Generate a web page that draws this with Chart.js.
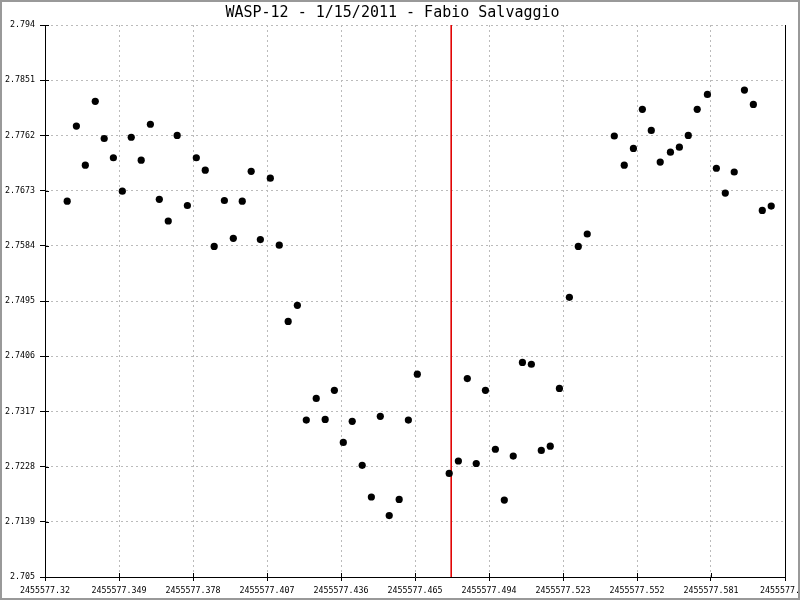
<!DOCTYPE html>
<html><head><meta charset="utf-8">
<script src="https://cdn.jsdelivr.net/npm/chart.js@4/dist/chart.umd.min.js"></script>
<style>html,body{margin:0;padding:0;background:#fff;}canvas{display:block;}</style>
</head><body>
<canvas id="c" width="800" height="600"></canvas>
<script>
const chartTitle = 'WASP-12 - 1/15/2011 - Fabio Salvaggio';

const julianDates = [
  2455577.3287, 2455577.3323, 2455577.3358, 2455577.3397, 2455577.3432, 2455577.3468,
  2455577.3503, 2455577.3538, 2455577.3577, 2455577.3613, 2455577.3648, 2455577.3683,
  2455577.3718, 2455577.3758, 2455577.3793, 2455577.3828, 2455577.3863, 2455577.3903,
  2455577.3938, 2455577.3973, 2455577.4008, 2455577.4044, 2455577.4083, 2455577.4118,
  2455577.4153, 2455577.4189, 2455577.4224, 2455577.4263, 2455577.4298, 2455577.4334,
  2455577.4369, 2455577.4404, 2455577.4443, 2455577.4479, 2455577.4514, 2455577.4549,
  2455577.4588, 2455577.4624, 2455577.4659, 2455577.4784, 2455577.4820, 2455577.4855,
  2455577.4890, 2455577.4926, 2455577.4965, 2455577.5000, 2455577.5035, 2455577.5071,
  2455577.5106, 2455577.5145, 2455577.5180, 2455577.5216, 2455577.5255, 2455577.5290,
  2455577.5325, 2455577.5431, 2455577.5470, 2455577.5506, 2455577.5541, 2455577.5576,
  2455577.5611, 2455577.5651, 2455577.5686, 2455577.5721, 2455577.5756, 2455577.5796,
  2455577.5831, 2455577.5866, 2455577.5901, 2455577.5941, 2455577.5976, 2455577.6011,
  2455577.6046
];
const magnitudes = [
  2.7656, 2.7777, 2.7714, 2.7817, 2.7757, 2.7726,
  2.7672, 2.7759, 2.7722, 2.7780, 2.7659, 2.7624,
  2.7762, 2.7649, 2.7726, 2.7706, 2.7583, 2.7657,
  2.7596, 2.7656, 2.7704, 2.7594, 2.7693, 2.7585,
  2.7462, 2.7488, 2.7303, 2.7338, 2.7304, 2.7351,
  2.7267, 2.7301, 2.7230, 2.7179, 2.7309, 2.7149,
  2.7175, 2.7303, 2.7377, 2.7217, 2.7237, 2.7370,
  2.7233, 2.7351, 2.7256, 2.7174, 2.7245, 2.7396,
  2.7393, 2.7254, 2.7261, 2.7354, 2.7501, 2.7583,
  2.7603, 2.7761, 2.7714, 2.7741, 2.7804, 2.7770,
  2.7719, 2.7735, 2.7743, 2.7762, 2.7804, 2.7828,
  2.7709, 2.7669, 2.7703, 2.7835, 2.7812, 2.7641,
  2.7648
];
const transitMid = 2455577.4792;

const xTickLabels = ['2455577.32','2455577.349','2455577.378','2455577.407','2455577.436',
  '2455577.465','2455577.494','2455577.523','2455577.552','2455577.581','2455577.61'];
const yTickLabels = ['2.705','2.7139','2.7228','2.7317','2.7406','2.7495',
  '2.7584','2.7673','2.7762','2.7851','2.794'];

const xTickValues = xTickLabels.map(Number);
const yTickValues = yTickLabels.map(Number);
const xMin = xTickValues[0], xMax = xTickValues[xTickValues.length - 1];
const yMin = yTickValues[0], yMax = yTickValues[yTickValues.length - 1];

const points = julianDates.map((x, i) => ({ x: x, y: magnitudes[i] }));
const transitLine = [{ x: transitMid, y: yMax }, { x: transitMid, y: yMin }];

const tickFont = { family: '"DejaVu Sans Mono", monospace', size: 8.3 };

const frame = {
  id: 'frame',
  afterDraw(chart) {
    const { ctx, chartArea: a, scales: { x, y } } = chart;
    ctx.save();
    ctx.strokeStyle = '#000';
    ctx.lineWidth = 1;
    ctx.beginPath();
    x.ticks.forEach((t, i) => {
      const px = Math.round(x.getPixelForTick(i)) + 0.5;
      ctx.moveTo(px, a.bottom); ctx.lineTo(px, a.bottom - 4);
    });
    y.ticks.forEach((t, i) => {
      const py = Math.round(y.getPixelForTick(i)) + 0.5;
      ctx.moveTo(a.left, py); ctx.lineTo(a.left + 4, py);
    });
    ctx.stroke();
    ctx.strokeStyle = '#999';
    ctx.lineWidth = 2;
    ctx.strokeRect(1, 1, chart.width - 2, chart.height - 2);
    ctx.restore();
  }
};

new Chart(document.getElementById('c'), {
  type: 'scatter',
  data: {
    datasets: [
      {
        data: points,
        backgroundColor: '#000',
        borderColor: '#000',
        borderWidth: 0,
        pointRadius: 3.6,
        pointHoverRadius: 3.6
      },
      {
        type: 'line',
        data: transitLine,
        borderColor: '#e00000',
        borderWidth: 1,
        pointRadius: 0,
        fill: false
      }
    ]
  },
  options: {
    responsive: false,
    animation: false,
    events: [],
    layout: { padding: { left: 0, right: 15, top: 0, bottom: 0 } },
    plugins: {
      legend: { display: false },
      tooltip: { enabled: false },
      title: {
        display: true,
        text: chartTitle,
        color: '#000',
        font: { family: '"DejaVu Sans Mono", monospace', size: 15, weight: 'normal', lineHeight: 1.2 },
        padding: { top: 4, bottom: 3 }
      }
    },
    scales: {
      x: {
        type: 'linear',
        min: xMin,
        max: xMax,
        afterBuildTicks(scale) { scale.ticks = xTickValues.map(v => ({ value: v })); },
        afterFit(scale) { scale.paddingLeft = 0; scale.paddingRight = 0; scale.height = 23; },
        ticks: {
          autoSkip: false,
          maxRotation: 0,
          minRotation: 0,
          color: '#000',
          font: tickFont,
          padding: 5,
          callback: (v, i) => xTickLabels[i]
        },
        grid: {
          color: ctx => (ctx.index === xTickValues.length - 1 ? '#000' : '#bbb'),
          lineWidth: 1,
          tickLength: 4,
          tickColor: '#000',
          drawTicks: true
        },
        border: {
          display: true,
          color: '#000',
          width: 1,
          dash: ctx => (ctx.index === xTickValues.length - 1 ? [] : [2, 3])
        }
      },
      y: {
        type: 'linear',
        min: yMin,
        max: yMax,
        afterBuildTicks(scale) { scale.ticks = yTickValues.map(v => ({ value: v })); },
        afterFit(scale) { scale.paddingTop = 0; scale.paddingBottom = 0; scale.width = 45; },
        ticks: {
          autoSkip: false,
          color: '#000',
          font: tickFont,
          padding: 5,
          callback: (v, i) => yTickLabels[i]
        },
        grid: {
          color: '#bbb',
          lineWidth: 1,
          tickLength: 5,
          tickColor: '#000',
          drawTicks: true
        },
        border: {
          display: true,
          color: '#000',
          width: 1,
          dash: [2, 3]
        }
      }
    }
  },
  plugins: [frame]
});
</script>
</body></html>
